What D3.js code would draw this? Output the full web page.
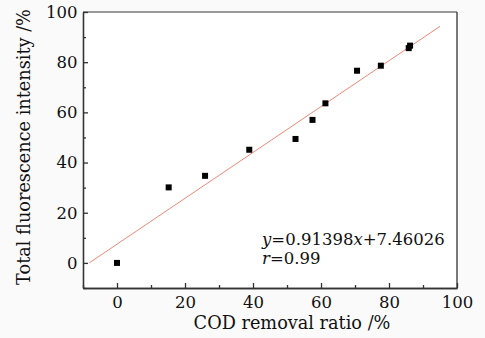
<!DOCTYPE html>
<meta charset="utf-8">
<style>
    body { margin: 0; background: #fafafa; }
    svg text { font-family: "DejaVu Serif", serif; fill: #111; }
    .axis path, .axis line { stroke: #333; stroke-width: 1.3px; }
    .axis text { font-size: 16.5px; font-family: "DejaVu Serif", serif; fill: #111; }
</style>
<script src="https://cdn.jsdelivr.net/npm/d3@7"></script>
<body>
<div id="chart"></div>
<script>
    // values
    var codRemoval   = [0, 15.2, 25.9, 38.9, 52.5, 57.5, 61.3, 70.6, 77.6, 85.8, 86.2];
    var fluorescence = [0, 30.1, 34.7, 45.1, 49.4, 57.0, 63.6, 76.6, 78.6, 85.6, 86.6];
    var fitSlope = 0.91398, fitIntercept = 7.46026;
    var fitRange = [-8.16, 95];
    var majorTicks = [0, 20, 40, 60, 80, 100];
    var minorTicks = [-10, 10, 30, 50, 70, 90];

    var width = 485, height = 338;
    var margin = { top: 12, right: 28, bottom: 50, left: 83 };

    var svg = d3.select("#chart").append("svg")
        .attr("width", width)
        .attr("height", height);

    var x = d3.scaleLinear().domain([-10, 100]).range([margin.left, width - margin.right]);
    var y = d3.scaleLinear().domain([-10, 100]).range([height - margin.bottom, margin.top]);

    // plot frame
    svg.append("rect")
        .attr("x", x(-10)).attr("y", y(100))
        .attr("width", x(100) - x(-10)).attr("height", y(-10) - y(100))
        .style("fill", "#fff")
        .style("stroke", "none");
    svg.append("line")
        .attr("x1", x(-10)).attr("x2", x(100)).attr("y1", y(100)).attr("y2", y(100))
        .style("stroke", "#777").style("stroke-width", "1.5px");
    svg.append("line")
        .attr("x1", x(100)).attr("x2", x(100)).attr("y1", y(100)).attr("y2", y(-10))
        .style("stroke", "#333").style("stroke-width", "1.3px");

    // axes, ticks pointing inward
    svg.append("g")
        .attr("class", "axis")
        .attr("transform", "translate(0," + y(-10) + ")")
        .call(d3.axisBottom(x).tickValues(majorTicks).tickSize(-5).tickPadding(8.3).tickSizeOuter(0));
    svg.append("g")
        .attr("class", "axis")
        .attr("transform", "translate(0," + y(-10) + ")")
        .call(d3.axisBottom(x).tickValues(minorTicks).tickSize(-3).tickFormat("").tickSizeOuter(0));
    svg.append("g")
        .attr("class", "axis")
        .attr("transform", "translate(" + x(-10) + ",0)")
        .call(d3.axisLeft(y).tickValues(majorTicks).tickSize(-5).tickPadding(5.5).tickSizeOuter(0));
    svg.append("g")
        .attr("class", "axis")
        .attr("transform", "translate(" + x(-10) + ",0)")
        .call(d3.axisLeft(y).tickValues(minorTicks).tickSize(-3).tickFormat("").tickSizeOuter(0));

    // fitted line
    svg.append("line")
        .attr("x1", x(fitRange[0])).attr("y1", y(fitSlope * fitRange[0] + fitIntercept))
        .attr("x2", x(fitRange[1])).attr("y2", y(fitSlope * fitRange[1] + fitIntercept))
        .style("stroke", "#f08878")
        .style("stroke-width", "1px");

    // points
    var pts = codRemoval.map(function (d, i) { return [d, fluorescence[i]]; });
    var sz = 6;
    svg.append("g")
        .selectAll("rect")
        .data(pts)
        .enter().append("rect")
        .attr("x", function (d) { return x(d[0]) - sz / 2; })
        .attr("y", function (d) { return y(d[1]) - sz / 2; })
        .attr("width", sz)
        .attr("height", sz)
        .style("fill", "#000");

    // equation
    var eq = svg.append("text")
        .attr("x", 262).attr("y", 245)
        .style("font-size", "16.5px");
    eq.append("tspan").style("font-style", "italic").text("y");
    eq.append("tspan").text("=0.91398");
    eq.append("tspan").style("font-style", "italic").text("x");
    eq.append("tspan").text("+7.46026");

    var rr = svg.append("text")
        .attr("x", 262).attr("y", 264)
        .style("font-size", "16.5px");
    rr.append("tspan").style("font-style", "italic").text("r");
    rr.append("tspan").text("=0.99");

    // axis titles
    svg.append("text")
        .attr("x", 292).attr("y", 329)
        .attr("text-anchor", "middle")
        .style("font-size", "17.7px")
        .text("COD removal ratio /%");

    svg.append("text")
        .attr("transform", "translate(30,147) rotate(-90)")
        .attr("text-anchor", "middle")
        .style("font-size", "17.7px")
        .text("Total fluorescence intensity /%");
</script>
</body>
